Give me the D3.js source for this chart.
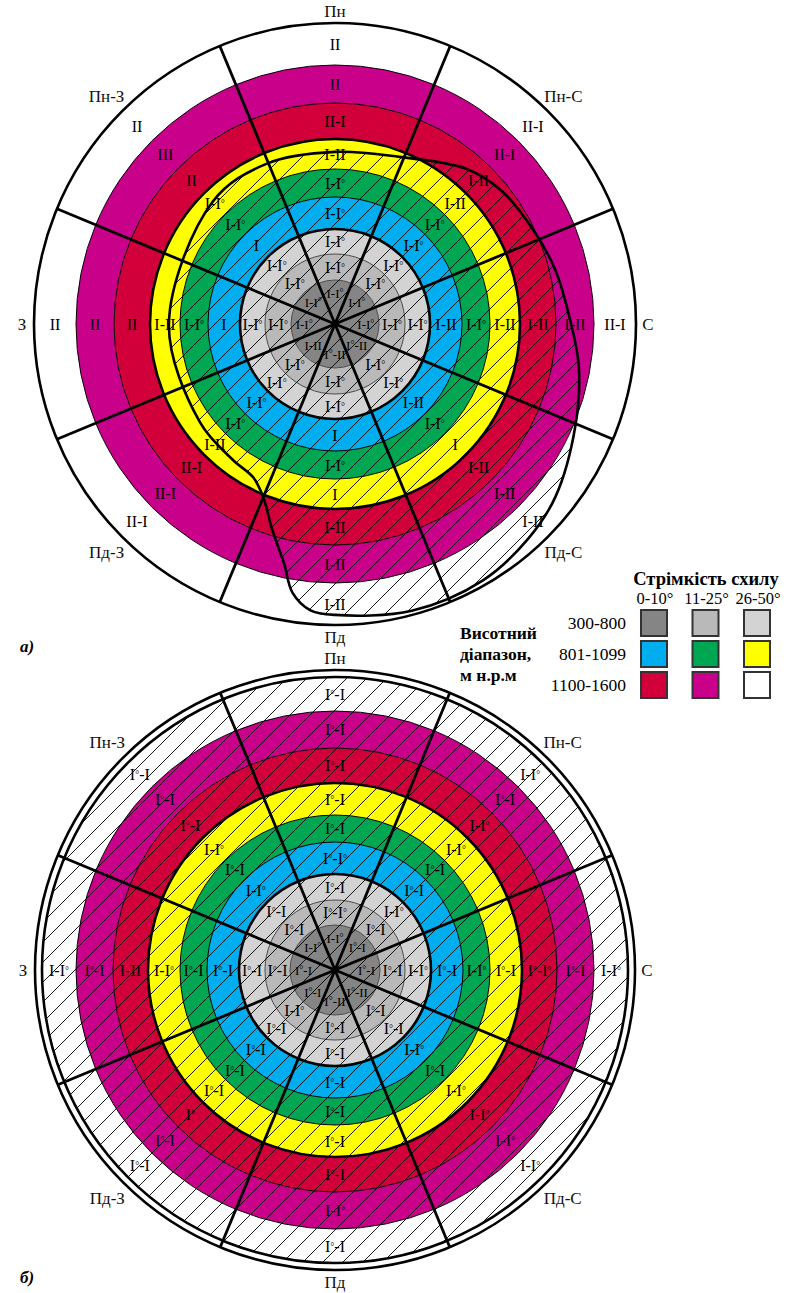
<!DOCTYPE html>
<html>
<head>
<meta charset="utf-8">
<script src="https://cdn.jsdelivr.net/npm/d3@7"></script>
<style>
  body { margin: 0; background: #fff; }
  svg { display: block; }
  text { font-family: "Liberation Serif", "Times New Roman", serif; }
</style>
</head>
<body>
<svg id="chart" width="798" height="1293"></svg>
<script>
// Aspect sectors, clockwise from north
const aspects = ["Пн", "Пн-С", "С", "Пд-С", "Пд", "Пд-З", "З", "Пн-З"];
// Legend axes
const elevations = ["300-800", "801-1099", "1100-1600"];
const slopes = ["0-10°", "11-25°", "26-50°"];
// Belt colours: rows = elevation range, columns = slope class
const beltColors = [
  ["#858585", "#b9b9b9", "#d3d3d3"],
  ["#00adef", "#00a651", "#ffff00"],
  ["#d1003a", "#c8008a", "#ffffff"]
];

// Ratings per belt (inner -> outer), per aspect (Пн, Пн-С, С, Пд-С, Пд, Пд-З, З, Пн-З)
const ratingsA = [
  ["I-I°", "I-I°", "I-I°", "I°-II", "I°-II", "I-II", "I-I°", "I-I°"],
  ["I-I°", "I-I°", "I-I°", "I-I°", "I-I°", "I-I°", "I-I°", "I-I°"],
  ["I-I°", "I-I°", "I-I°", "I-I°", "I-I°", "I-I°", "I-I°", "I-I°"],
  ["I-I°", "I-I°", "I-II", "I-II", "I", "I-I°", "I", "I"],
  ["I-I°", "I-I°", "I-I°", "I-I°", "I-I°", "I-I°", "I-I°", "I-I°"],
  ["I-II", "I-II", "I-II", "I", "I", "I-II", "I-II", "I-I°"],
  ["II-I", "I-II", "I-II", "I-II", "I-II", "II-I", "II", "II"],
  ["II", "II-I", "I-II", "I-II", "I-II", "II-I", "II", "III"],
  ["II", "II-I", "II-I", "I-II", "I-II", "II-I", "II", "II"]
];
const ratingsB = [
  ["I-I°", "I°-I", "I°-I", "I°-II", "I°-II", "I°-I", "I°-I", "I-I°"],
  ["I°-I°", "I°-I", "I°-I", "I°-I", "I°-I", "I-I°", "I°-I", "I°-I"],
  ["I°-I", "I-I°", "I-I°", "I°-I", "I°-I", "I°-I", "I°-I", "I°-I"],
  ["I°-I°", "I°-I", "I°-I", "I-I°", "I°-I", "I°-I", "I°-I", "I-I°"],
  ["I°-I", "I°-I", "I-I°", "I°-I", "I°-I", "I°-I", "I°-I", "I°-I"],
  ["I°-I", "I-I°", "I°-I", "I-I°", "I°-I", "I°-I", "I-I°", "I-I°"],
  ["I°-I", "I-I°", "I°-I°", "I-I°", "I°-I", "I°", "I-II", "I°-I"],
  ["I°-I", "I°-I", "I°-I", "I-I°", "I-I°", "I°-I", "I°-I", "I°-I"],
  ["I°-I", "I-I°", "I-I°", "I-I°", "I°-I", "I°-I", "I-I°", "I°-I"]
];

// Boundary of the hatched zone in chart а): [azimuth°, belt units]
const zoneA = [
  [0, 5.57], [21, 5.8], [40, 6.5], [51, 6.78], [64, 6.95], [76, 7.15], [88, 7.35],
  [100, 7.7], [113, 8.05], [128, 8.5], [138, 8.71], [150, 8.88], [165, 8.9],
  [180, 8.76], [185, 8.67], [189, 8.31], [192, 7.63], [197, 6.83], [202.6, 6.06],
  [208, 5.63], [217, 5.5], [234, 5.4], [270, 5.37], [315, 5.6], [337, 5.64]
];

const svg = d3.select("#chart");
const defs = svg.append("defs");
const hatch = defs.append("pattern")
  .attr("id", "hatch").attr("patternUnits", "userSpaceOnUse")
  .attr("width", 20).attr("height", 20);
hatch.append("path")
  .attr("d", "M-5,5L5,-5M0,20L20,0M15,25L25,15")
  .attr("stroke", "#000").attr("stroke-width", 0.9);

const deg = Math.PI / 180;
const belts = d3.range(9).map(i => ({
  i, color: beltColors[Math.floor(i / 3)][i % 3]
}));

// writes a rating, with the degree mark set small and raised
function rating(sel) {
  sel.each(function(d) {
    const t = d3.select(this);
    const parts = d.t.split("°");
    let raised = false;
    parts.forEach((p, j) => {
      if (p) {
        const s = t.append("tspan").text(p);
        if (raised) s.attr("dy", 2);
        raised = false;
      }
      if (j < parts.length - 1) {
        t.append("tspan").attr("font-size", 10).attr("dy", -2).text("°");
        raised = true;
      }
    });
  });
}

function drawChart(cfg) {
  const g = svg.append("g").attr("transform", `translate(${cfg.cx},${cfg.cy})`);
  const r = d3.scaleLinear().domain(d3.range(10)).range(cfg.radii);
  const outerR = cfg.outer;

  // belts
  const arc = d3.arc();
  g.selectAll("path.belt").data(belts).join("path")
    .attr("class", "belt")
    .attr("d", d => arc({innerRadius: r(d.i), outerRadius: r(d.i + 1), startAngle: 0, endAngle: 2 * Math.PI}))
    .attr("fill", d => d.color);

  // thin belt borders
  g.selectAll("circle.thin").data(d3.range(1, 9)).join("circle")
    .attr("class", "thin").attr("r", d => r(d)).attr("fill", "none")
    .attr("stroke", d => d < 3 ? "#4a4a4a" : "#000").attr("stroke-width", 1);

  const zone = d3.lineRadial()
    .angle(d => d[0] * deg).radius(d => r(d[1]))
    .curve(d3.curveCatmullRomClosed.alpha(0.5));

  // hatched zone
  if (cfg.zone) {
    g.append("path").attr("d", zone(cfg.zone)).attr("fill", "url(#hatch)");
  } else {
    g.append("circle").attr("r", r(9)).attr("fill", "url(#hatch)");
  }

  // thick borders: 300-800 m and 801-1099 m limits
  g.selectAll("circle.thick").data([3, 6]).join("circle")
    .attr("class", "thick").attr("r", d => r(d)).attr("fill", "none")
    .attr("stroke", "#000").attr("stroke-width", 2.6);

  // outer circle(s)
  g.selectAll("circle.outer").data(cfg.double ? [r(9), outerR] : [outerR]).join("circle")
    .attr("class", "outer").attr("r", d => d).attr("fill", "none")
    .attr("stroke", "#000").attr("stroke-width", 2.6);

  // sector dividers
  g.selectAll("line.div").data(d3.range(8)).join("line")
    .attr("class", "div")
    .attr("x1", 0).attr("y1", 0)
    .attr("x2", k => outerR * Math.sin((22.5 + 45 * k) * deg))
    .attr("y2", k => -outerR * Math.cos((22.5 + 45 * k) * deg))
    .attr("stroke", "#000").attr("stroke-width", 2.8);

  if (cfg.zone) {
    g.append("path").attr("d", zone(cfg.zone)).attr("fill", "none")
      .attr("stroke", "#000").attr("stroke-width", 2.6);
  }

  // ratings
  const cells = [];
  cfg.ratings.forEach((row, i) => row.forEach((t, k) => {
    const rr = i === 0 ? r(0.7) : r(i + 0.5);
    const a = 45 * k * deg;
    cells.push({t, i, x: rr * Math.sin(a), y: -rr * Math.cos(a)});
  }));
  g.selectAll("text.rating").data(cells).join("text")
    .attr("class", "rating")
    .attr("x", d => d.x).attr("y", d => d.y + (d.i === 0 ? 4.5 : 5.5))
    .attr("text-anchor", "middle").attr("font-size", d => d.i === 0 ? 13 : 16).attr("fill", "#000")
    .call(rating);

  // aspect names
  g.selectAll("text.aspect").data(aspects).join("text")
    .attr("class", "aspect")
    .attr("x", (d, k) => (outerR + (k % 2 ? 22 : 12)) * Math.sin(45 * k * deg))
    .attr("y", (d, k) => -(outerR + (k % 2 ? 22 : 12)) * Math.cos(45 * k * deg))
    .attr("dy", "0.35em").attr("text-anchor", "middle")
    .attr("font-size", 17).attr("fill", "#111")
    .text(d => d);

  svg.append("text").attr("x", 20).attr("y", cfg.tagY)
    .attr("font-size", 17).attr("font-style", "italic").attr("font-weight", "bold")
    .text(cfg.tag);
}

drawChart({cx: 335, cy: 324, radii: [0, 44, 70, 95, 127, 155, 185, 221, 259, 301],
  outer: 301, ratings: ratingsA, zone: zoneA, double: false, tag: "а)", tagY: 652});
drawChart({cx: 335, cy: 970, radii: [0, 45, 70, 96, 128, 155, 187, 222, 259, 293],
  outer: 300, ratings: ratingsB, zone: null, double: true, tag: "б)", tagY: 1283});

// legend
const lg = svg.append("g");
const colX = d3.scalePoint().domain(slopes).range([641, 744]);
const rowY = d3.scalePoint().domain(elevations).range([610, 672]);
lg.append("text").attr("x", 706).attr("y", 585).attr("text-anchor", "middle")
  .attr("font-size", 18.5).attr("font-weight", "bold").text("Стрімкість схилу");
lg.selectAll("text.slope").data(slopes).join("text").attr("class", "slope")
  .attr("x", d => colX(d) + 14).attr("y", 604).attr("text-anchor", "middle")
  .attr("font-size", 16.5).text(d => d);
lg.selectAll("text.elev").data(elevations).join("text").attr("class", "elev")
  .attr("x", 626).attr("y", d => rowY(d) + 13).attr("dy", "0.35em")
  .attr("text-anchor", "end").attr("font-size", 17.5).text(d => d);
const sw = [];
elevations.forEach((e, i) => slopes.forEach((s, j) => sw.push({e, s, c: beltColors[i][j]})));
lg.selectAll("rect").data(sw).join("rect")
  .attr("x", d => colX(d.s)).attr("y", d => rowY(d.e))
  .attr("width", 26).attr("height", 26)
  .attr("fill", d => d.c).attr("stroke", "#333").attr("stroke-width", 2);
lg.selectAll("text.head").data(["Висотний", "діапазон,", "м н.р.м"]).join("text")
  .attr("class", "head").attr("x", 460).attr("y", (d, i) => 639 + i * 21)
  .attr("font-size", 17.5).attr("font-weight", "bold").text(d => d);
</script>
</body>
</html>
